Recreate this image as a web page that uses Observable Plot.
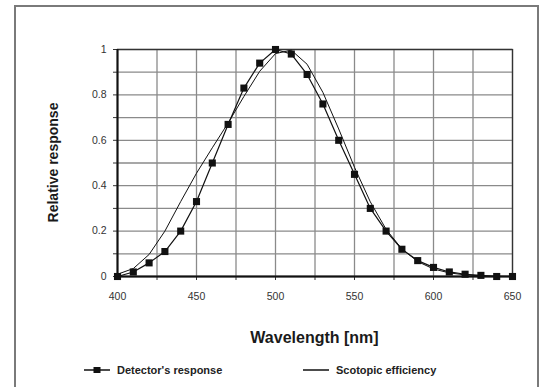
<!DOCTYPE html>
<html>
<head>
<meta charset="utf-8">
<script src="https://cdn.jsdelivr.net/npm/d3@7"></script>
<script src="https://cdn.jsdelivr.net/npm/@observablehq/plot@0.6"></script>
<style>
  body { margin: 0; background: #fff; font-family: "Liberation Sans", Arial, sans-serif; }
  #wrap { position: relative; width: 546px; height: 387px; overflow: hidden; }
  #border { position: absolute; left: 14px; top: 5px; width: 525px; height: 420px; border: 2px solid #7a7a7a; box-sizing: border-box; }
  #chart { position: absolute; left: 0; top: 0; }
  #legend { position: absolute; top: 362px; left: 0; width: 546px; height: 18px; font-size: 11px; font-weight: bold; color: #222; }
  .item { position: absolute; top: 0; display: flex; align-items: center; height: 16px; }
  .item svg { margin-right: 7px; }
</style>
</head>
<body>
<div id="wrap">
  <div id="border"></div>
  <div id="chart"></div>
  <div id="legend"></div>
</div>
<script>
const wavelengths = [400,410,420,430,440,450,460,470,480,490,500,510,520,530,540,550,560,570,580,590,600,610,620,630,640,650];
const detectorResponse = [0.0,0.02,0.06,0.11,0.20,0.33,0.50,0.67,0.83,0.94,1.0,0.98,0.89,0.76,0.60,0.45,0.30,0.20,0.12,0.07,0.04,0.02,0.01,0.005,0.0,0.0];
const scotopicEfficiency = [0.01,0.035,0.097,0.20,0.33,0.455,0.567,0.676,0.793,0.904,0.982,0.997,0.935,0.811,0.650,0.481,0.329,0.208,0.121,0.066,0.033,0.016,0.007,0.003,0.0015,0.0007];
const xGrid = [400,425,450,475,500,525,550,575,600,625,650];
const xTickLabels = [400,450,500,550,600,650];
const yGrid = [0,0.1,0.2,0.3,0.4,0.5,0.6,0.7,0.8,0.9,1];
const yTickLabels = [0,0.2,0.4,0.6,0.8,1];
const seriesNames = ["Detector's response", "Scotopic efficiency"];

const det = wavelengths.map((w,i) => ({w, v: detectorResponse[i]}));
const sco = wavelengths.map((w,i) => ({w, v: scotopicEfficiency[i]}));

const plot = Plot.plot({
  width: 546,
  height: 350,
  marginLeft: 117,
  marginRight: 34,
  marginTop: 49,
  marginBottom: 74,
  style: { fontFamily: "'Liberation Sans', Arial, sans-serif", fontSize: "10.5px", color: "#333", background: "transparent" },
  x: { domain: [400, 650] },
  y: { domain: [0, 1] },
  marks: [
    Plot.ruleX(xGrid, { stroke: "#8a8a8a", strokeWidth: 1.3 }),
    Plot.ruleY(yGrid, { stroke: "#8a8a8a", strokeWidth: 1.3 }),
    Plot.frame({ stroke: "#333", strokeWidth: 1.3 }),
    Plot.axisX({ ticks: xGrid, tickSize: 4, tickPadding: 12, tickFormat: d => xTickLabels.includes(d) ? String(d) : "", label: null, stroke: "#333" }),
    Plot.axisY({ ticks: yGrid, tickSize: 4, tickPadding: 7, tickFormat: d => yTickLabels.some(t => Math.abs(t - d) < 1e-9) ? String(+d.toFixed(1)) : "", label: null, stroke: "#333" }),
    Plot.ruleX([400], { stroke: "#111", strokeWidth: 2 }),
    Plot.ruleY([0], { stroke: "#111", strokeWidth: 2 }),
    Plot.line(sco, { x: "w", y: "v", stroke: "#111", strokeWidth: 1, curve: "linear" }),
    Plot.line(det, { x: "w", y: "v", stroke: "#111", strokeWidth: 1.2 }),
    Plot.dot(det, { x: "w", y: "v", symbol: "square", r: 4, fill: "#111", stroke: "none" })
  ]
});
document.getElementById("chart").appendChild(plot);

const svg = d3.select(plot);
svg.append("text")
  .attr("x", 117 + (546 - 117 - 34) / 2)
  .attr("y", 343)
  .attr("text-anchor", "middle")
  .attr("font-size", "16px")
  .attr("font-weight", "bold")
  .attr("fill", "#1a1a1a")
  .attr("font-family", "'Liberation Sans', Arial, sans-serif")
  .text("Wavelength [nm]");
svg.append("text")
  .attr("transform", `translate(58, ${49 + (276 - 49) / 2}) rotate(-90)`)
  .attr("text-anchor", "middle")
  .attr("font-size", "14px")
  .attr("font-weight", "bold")
  .attr("fill", "#1a1a1a")
  .attr("font-family", "'Liberation Sans', Arial, sans-serif")
  .text("Relative response");

const legend = document.getElementById("legend");
const items = [
  { name: seriesNames[0], left: 84, marker: true },
  { name: seriesNames[1], left: 303, marker: false }
];
items.forEach(it => {
  const d = document.createElement("div");
  d.className = "item";
  d.style.left = it.left + "px";
  d.innerHTML = `<svg width="26" height="10"><line x1="0" y1="5" x2="26" y2="5" stroke="#111" stroke-width="1.5"/>${it.marker ? '<rect x="9.5" y="2" width="7" height="6" fill="#111"/>' : ''}</svg><span>${it.name}</span>`;
  legend.appendChild(d);
});
</script>
</body>
</html>
